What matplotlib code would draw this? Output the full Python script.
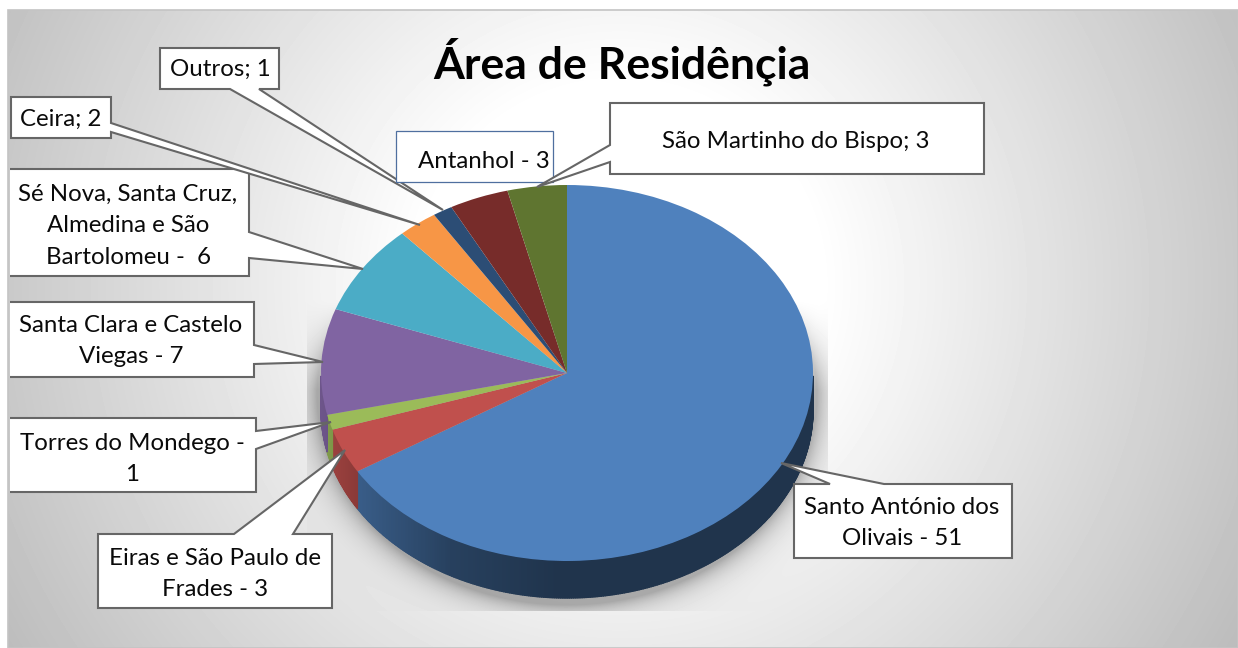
import numpy as np
import matplotlib
matplotlib.use("Agg")
import matplotlib.pyplot as plt
from matplotlib.collections import PolyCollection
from matplotlib.patches import Polygon, Rectangle

# Data
labels = ["Santo António dos\nOlivais - 51", "Eiras e São Paulo de\nFrades - 3",
          "Torres do Mondego -\n1", "Santa Clara e Castelo\nViegas - 7",
          "Sé Nova, Santa Cruz,\nAlmedina e São\nBartolomeu -  6", "Ceira; 2",
          "Outros; 1", "Antanhol - 3", "São Martinho do Bispo; 3"]
values = [51, 3, 1, 7, 6, 2, 1, 3, 3]
colors = ["#4f81bd", "#c0504d", "#9bbb59", "#8064a2", "#4bacc6",
          "#f79646", "#2c4d75", "#772c2a", "#5f7530"]
title = "Área de Residênçia"

# Layout, in pixels of the 1238x648 picture
W, H = 1238, 648
cx, cy, rx, ry, depth = 567, 373, 246, 188, 37
# box (x0, y0, x1, y1), side of the tail, two tail base points, tail tip, text centre
callouts = [
    ((794, 484, 1012, 558), "top", 830, 884, (781, 463), (902, 523)),
    ((98, 534, 332, 608), "top", 234, 293, (345, 450), (215, 574)),
    ((10, 418, 256, 492), "right", 431, 449, (331, 422), (132, 459)),
    ((10, 302, 254, 377), "right", 345, 364, (323, 362), (131, 341)),
    ((10, 169, 249, 276), "right", 232, 258, (363, 269), (128, 226)),
    ((11, 97, 111, 138), "right", 123, 132, (420, 225), (61, 119)),
    ((160, 48, 279, 89), "bottom", 230, 259, (443, 210), (220, 69)),
    ((396, 131, 553, 182), None, 0, 0, None, (484, 161)),
    ((610, 103, 984, 174), "left", 145, 162, (537, 187), (796, 141)),
]

plt.rcParams["font.family"] = ["Lato", "DejaVu Sans"]

fig = plt.figure(figsize=(W / 100, H / 100), dpi=100, facecolor="white")

# background axes, y goes down like the pixels
bg = fig.add_axes([0, 0, 1, 1], zorder=0)
bg.axis("off")

xx, yy = np.meshgrid(np.arange(8, W) + 0.5, np.arange(10, H) + 0.5)
dist = np.hypot(xx - 620, yy - 285)
grey = np.clip(255 - 0.13 * np.maximum(dist - 200, 0), 0, 255) / 255

# soft shadow under the pie, cut off by the plot area rectangle, fades out upwards
r = np.hypot((xx - cx) / 250, (yy - (cy + 22)) / 210)
shadow = 0.30 * np.exp(-np.maximum((r - 1) * 225, 0) / 13)
shadow *= np.clip((yy - 300) / 90, 0, 1)
shadow[(xx < 307) | (xx > 828) | (yy > 611)] = 0
grey = grey * (1 - shadow)
bg.imshow(grey, extent=(8, W, H, 10), cmap="gray", vmin=0, vmax=1,
          aspect="auto", interpolation="bilinear", zorder=0)
bg.add_patch(Rectangle((8, 10), W - 8, H - 10, fill=False, ec="#c4c4c4", lw=1.2, zorder=1))
bg.set_xlim(0, W)
bg.set_ylim(H, 0)

# side wall of the pie, only the front half shows
edges = np.concatenate([[0], np.cumsum(values)]) / np.sum(values) * 360
quads = []
quad_colors = []
for i, col in enumerate(colors):
    a0, a1 = max(edges[i], 91), min(edges[i + 1], 269)
    if a1 <= a0:
        continue
    steps = np.linspace(a0, a1, int((a1 - a0) * 2) + 2)
    base = np.array(matplotlib.colors.to_rgb(col))
    for t0, t1 in zip(steps[:-1], steps[1:]):
        x0, x1 = cx + rx * np.sin(np.radians([t0, t1]))
        y0, y1 = cy - ry * np.cos(np.radians([t0, t1]))
        quads.append([(x0, y0), (x1, y1), (x1, y1 + depth), (x0, y0 + depth)])
        shade = np.interp((x0 + x1) / 2, [321, 358, 450, 560, 813], [0.85, 0.72, 0.5, 0.4, 0.4])
        quad_colors.append(base * shade)
bg.add_collection(PolyCollection(quads, facecolors=quad_colors, edgecolors=quad_colors,
                                 linewidths=1.0, zorder=2))

# top face of the pie, squashed by its axes
ax = fig.add_axes([(cx - rx) / W, 1 - (cy + ry) / H, 2 * rx / W, 2 * ry / H], zorder=1)
ax.pie(values, colors=colors, startangle=90, counterclock=False, radius=1)
ax.set_aspect("auto")
ax.set_xlim(-1, 1)
ax.set_ylim(-1, 1)
ax.patch.set_visible(False)

# callouts on top
top = fig.add_axes([0, 0, 1, 1], zorder=2)
top.set_xlim(0, W)
top.set_ylim(H, 0)
top.axis("off")

for label, (box, side, b0, b1, tip, centre) in zip(labels, callouts):
    x0, y0, x1, y1 = box
    if side == "top":
        pts = [(x0, y0), (b0, y0), tip, (b1, y0), (x1, y0), (x1, y1), (x0, y1)]
    elif side == "right":
        pts = [(x0, y0), (x1, y0), (x1, b0), tip, (x1, b1), (x1, y1), (x0, y1)]
    elif side == "bottom":
        pts = [(x0, y0), (x1, y0), (x1, y1), (b1, y1), tip, (b0, y1), (x0, y1)]
    elif side == "left":
        pts = [(x0, y0), (x1, y0), (x1, y1), (x0, y1), (x0, b1), tip, (x0, b0)]
    else:
        pts = [(x0, y0), (x1, y0), (x1, y1), (x0, y1)]
    # boxes at the left border have no left stroke
    open_left = x0 == 10
    edge = "#4f6f9f" if side is None else "#666666"
    lw = 0.9 if side is None else 1.5
    top.add_patch(Polygon(pts, closed=not open_left, fc="white", ec=edge, lw=lw, joinstyle="miter"))
    top.text(centre[0], centre[1], label, ha="center", va="center", fontsize=17.3,
             color="#0a0a0a", linespacing=1.6)

top.text(622, 62, title, ha="center", va="center", fontsize=32, fontweight="bold", color="black")

fig.savefig("out.png", dpi=100)
